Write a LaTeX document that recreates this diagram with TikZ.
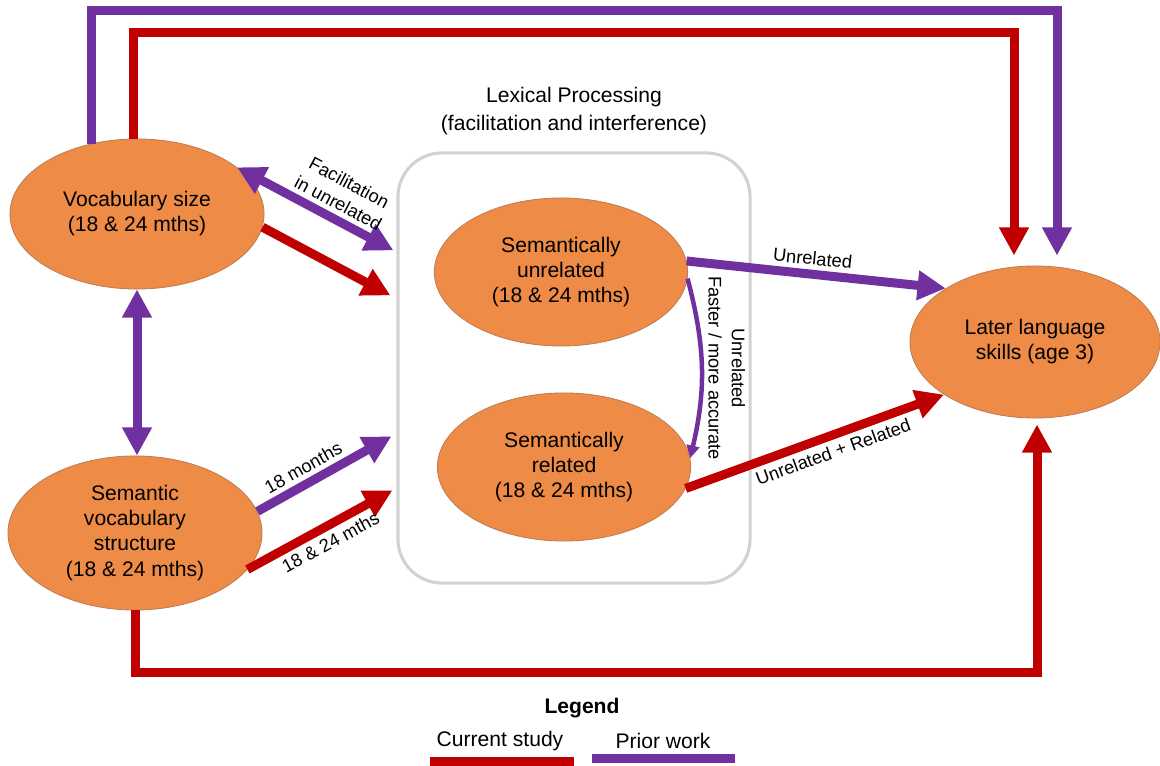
\documentclass[tikz,border=0pt]{standalone}
\usepackage{fontspec}
\setmainfont{Liberation Sans}
\usepackage{xcolor}
\usepackage{tikz}
\usetikzlibrary{positioning}
\usetikzlibrary{calc}
\usetikzlibrary{shapes.geometric}
\usetikzlibrary{arrows.meta}

\definecolor{ellfill}{RGB}{237,139,71}
\definecolor{ellborder}{RGB}{190,125,85}
\definecolor{curred}{RGB}{192,0,0}
\definecolor{priorpurple}{RGB}{112,48,160}
\definecolor{boxgray}{RGB}{210,210,210}

\newcommand{\bigtext}{\fontsize{15}{17.8}\selectfont}
\newcommand{\titletext}{\fontsize{15}{19.8}\selectfont}
\newcommand{\smalltext}{\fontsize{13}{16.5}\selectfont}

\tikzset{
    blob/.style={ellipse, draw=ellborder, fill=ellfill, line width=0.6pt, inner sep=0pt,
        minimum width=6.35cm, minimum height=3.75cm, align=center, font=\bigtext},
    curline/.style={draw=curred, line width=6.4pt, -{Triangle[length=20pt,width=20pt]}},
    priorline/.style={draw=priorpurple, line width=6.4pt, -{Triangle[length=20pt,width=20pt]}},
    priorboth/.style={draw=priorpurple, line width=6.4pt,
        {Triangle[length=20pt,width=20pt]}-{Triangle[length=20pt,width=20pt]}},
    priorthin/.style={draw=priorpurple, line width=3.2pt, -{Triangle[length=9pt,width=9pt]}},
    lbl/.style={font=\smalltext, align=center}
}

\begin{document}
\begin{tikzpicture}[x=0.025cm, y=-0.025cm]
    \useasboundingbox (0,0) rectangle (1160,766);

    \node [draw=boxgray, line width=2.2pt, rounded corners=1.1cm, minimum width=8.8cm,
        minimum height=10.75cm] (lex) at (574,368) {};
    \node [font=\titletext, align=center, above=0.3cm of lex] (lextitle)
        {Lexical Processing\\(facilitation and interference)};

    \node [blob] (vocab) at (137,214) {Vocabulary size\\(18 \& 24 mths)};
    \node [blob, minimum height=3.85cm] (sem) at (135,533) {Semantic\\vocabulary\\structure\\(18 \& 24 mths)};
    \node [blob, minimum width=6.33cm, minimum height=3.7cm] (unrel) at (561,272) {Semantically\\unrelated\\(18 \& 24 mths)};
    \node [blob, minimum width=6.33cm, minimum height=3.7cm] (rel) at (564,467) {Semantically\\related\\(18 \& 24 mths)};
    \node [blob, minimum width=6.25cm, minimum height=3.8cm] (later) at (1035,342) {Later language\\skills (age 3)};

    % long routes to later skills
    \draw [priorline, shorten >=0.25cm] (vocab.123) -- ++(0,-133) -| ($(later.north)+(22,0)$);
    \draw [curline, shorten >=0.25cm] (vocab.93) -- ++(0,-106) -| ($(later.north)+(-21,0)$);
    \draw [curline, shorten >=0.15cm] (sem.south) -- ++(0,62) -| ($(later.south)+(2,0)$);

    \draw [priorboth] (vocab.south) -- (vocab.south |- sem.north);

    \draw [priorboth] (vocab.25) -- node[lbl, sloped, above, pos=0.6] {Facilitation\\in unrelated} ($(lex.north west)+(-3,99)$);
    \draw [curline] (vocab.-6) -- ($(lex.north west)+(-6,144)$);
    \draw [priorline] (sem.10) -- node[lbl, sloped, above, pos=0.4] {18 months} ($(lex.north west)+(-5,285)$);
    \draw [curline] (sem.-18) -- node[lbl, sloped, below, pos=0.52] {18 \& 24 mths} ($(lex.north west)+(-4,339)$);

    \draw [priorline] (unrel.5) -- node[lbl, sloped, above, pos=0.48] {Unrelated} (later.149);
    \draw [curline] (rel.-10) -- node[lbl, sloped, below, pos=0.55] {Unrelated + Related} (later.210);

    \draw [priorthin] (unrel.-3) to[bend left=14] node[lbl, midway, anchor=south, rotate=-90] {Unrelated\\Faster / more accurate} (rel.4);

    % legend
    \node [font=\bigtext\bfseries] (legend) at (582,708) {Legend};
    \node [font=\bigtext] (curlbl) at (500,741) {Current study};
    \node [font=\bigtext] (priorlbl) at (663,741) {Prior work};
    \coordinate (curA) at (430,762);
    \coordinate (curB) at (574,762);
    \coordinate (priorA) at (592,759);
    \coordinate (priorB) at (735,759);
    \draw [draw=curred, line width=6.4pt] (curA) -- (curB);
    \draw [draw=priorpurple, line width=6.4pt] (priorA) -- (priorB);
\end{tikzpicture}
\end{document}
